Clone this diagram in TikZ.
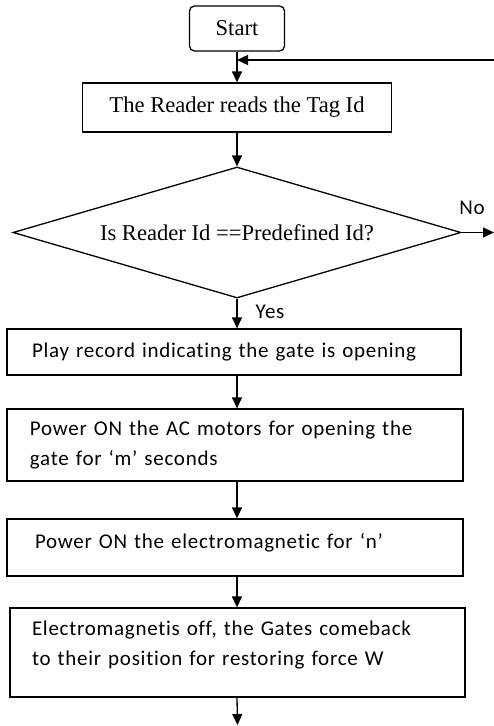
\documentclass[tikz,border=0pt]{standalone}
\usepackage{fontspec}
\setmainfont{Liberation Serif}
\newfontfamily\calfont[Ligatures=NoCommon,LetterSpace=3.5]{Carlito}
\usetikzlibrary{arrows.meta,shapes.geometric}
\begin{document}
\begin{tikzpicture}[x=1pt,y=-1pt,
  line width=1.3pt,
  box/.style={draw, rectangle, inner ysep=0pt},
  arr/.style={-{Triangle[length=11pt,width=10pt]}, line width=1.3pt},
  ser/.style={font=\fontsize{22.6}{26}\selectfont},
  cal/.style={font=\calfont\fontsize{21}{29.5}\selectfont},
]
\useasboundingbox (0,0) rectangle (494,726);

\node[box, rounded corners=5pt, ser, minimum width=95pt, minimum height=45pt] (start) at (237,28.5) {Start};
\node[box, ser, minimum width=309pt, minimum height=49pt] (reader) at (237,107.5) {The Reader reads the Tag Id};
\node[draw, diamond, aspect=3.42, inner sep=0pt, ser, minimum width=448pt, minimum height=131pt] (dec) at (237,232.5) {Is Reader Id ==Predefined Id?};

\node[box, cal, align=left, inner xsep=25pt, text width=404pt, minimum height=46pt] (play) at (234,352) {Play record indicating the gate is opening};
\node[box, cal, align=left, inner xsep=23pt, text width=410pt, minimum height=72pt] (ac) at (235,445) {Power ON the AC motors for opening the\\gate for ‘m’ seconds};
\node[box, cal, align=left, inner xsep=28pt, text width=400pt, minimum height=57pt] (em) at (235,547.5) {Power ON the electromagnetic for ‘n’\rule[-13pt]{0pt}{13pt}};
\node[box, cal, align=left, inner xsep=22pt, text width=411pt, minimum height=89pt] (off) at (237.5,652.5) {Electromagnetis off, the Gates comeback\\to their position for restoring force W\rule[-19pt]{0pt}{19pt}};

\node[cal, inner sep=0pt] (no) at (472,208) {No};
\node[cal, inner sep=0pt] (yes) at (270,312) {Yes};

\coordinate (fb) at (494,60);
\coordinate (noend) at (494,232.5);
\coordinate (endpt) at (237.5,725);

\draw[arr] (start.south) -- (reader.north);
\draw[arr] (fb) -- (fb -| start.south);
\draw[arr] (reader.south) -- (dec.north);
\draw[arr] (dec.east) -- (noend);
\draw[arr] (dec.south) -- (dec.south |- play.north);
\draw[arr] (dec.south |- play.south) -- (dec.south |- ac.north);
\draw[arr] (dec.south |- ac.south) -- (dec.south |- em.north);
\draw[arr] (dec.south |- em.south) -- (dec.south |- off.north);
\draw[arr] (dec.south |- off.south) -- (endpt);
\end{tikzpicture}
\end{document}
